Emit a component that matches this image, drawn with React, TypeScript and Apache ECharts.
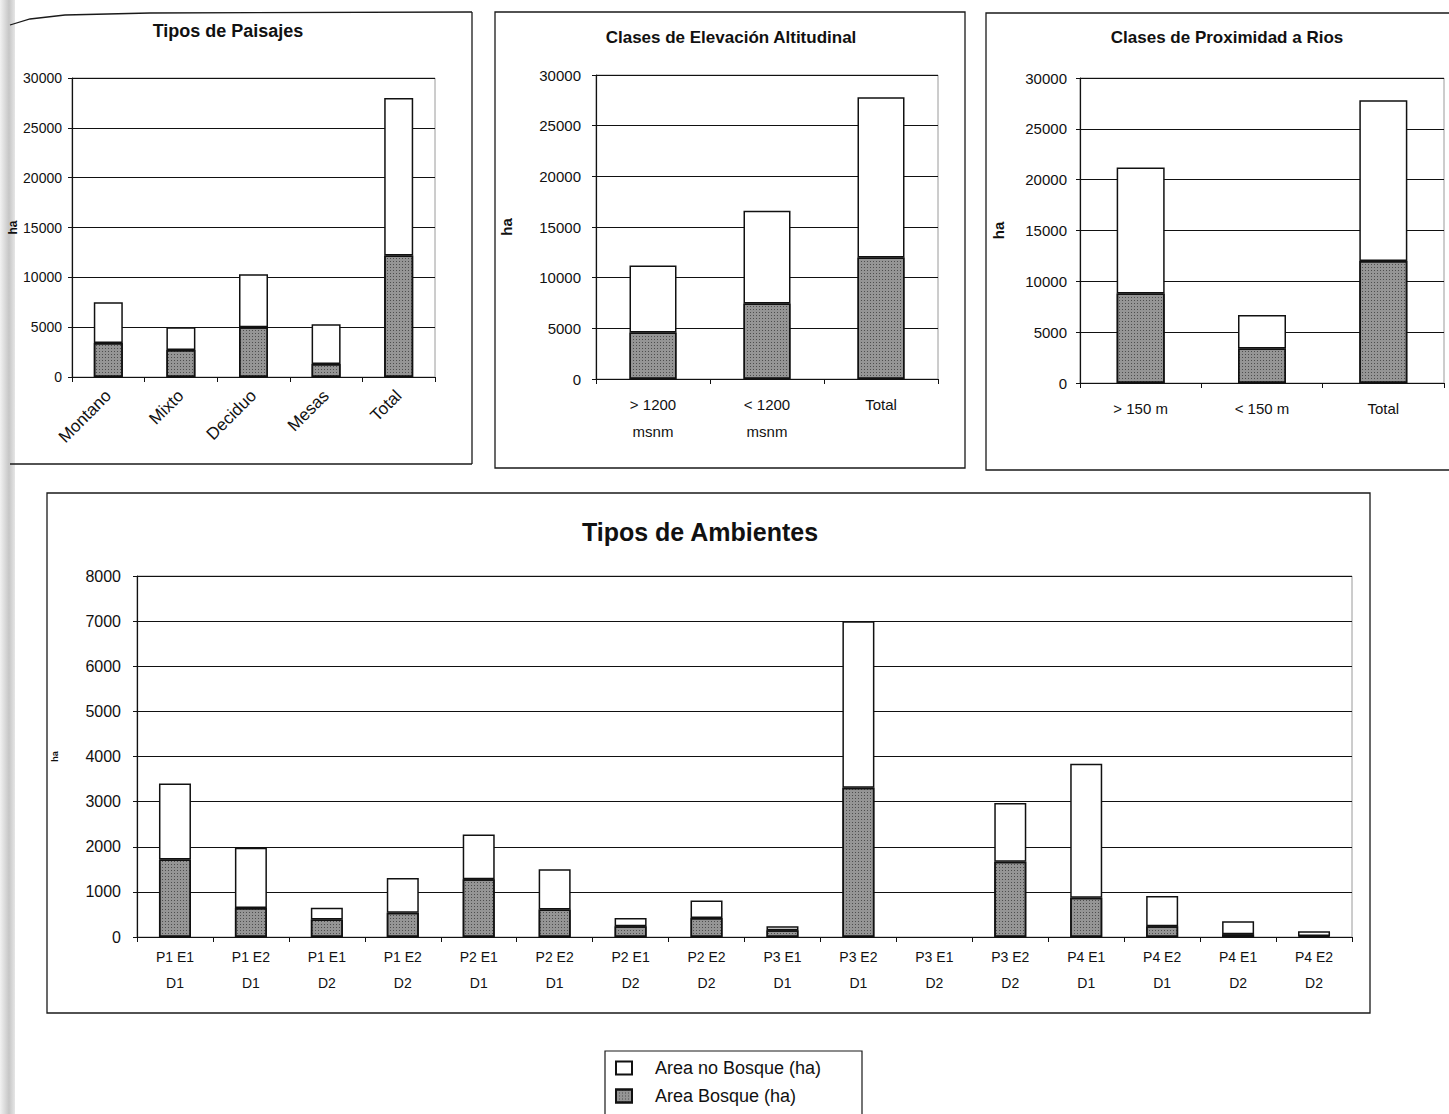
import React, { useEffect, useRef } from 'react';
import * as echarts from 'echarts';

// ---- data ----
const paisajesCats = ['Montano', 'Mixto', 'Deciduo', 'Mesas', 'Total'];
const paisajesBosque = [3400, 2700, 5000, 1300, 12200];
const paisajesNoBosque = [4100, 2300, 5300, 4000, 15800];

const elevCats = ['> 1200\nmsnm', '< 1200\nmsnm', 'Total'];
const elevBosque = [4600, 7450, 12000];
const elevNoBosque = [6600, 9150, 15800];

const riosCats = ['> 150 m', '< 150 m', 'Total'];
const riosBosque = [8800, 3400, 12000];
const riosNoBosque = [12400, 3300, 15800];

const ambCats = [
  'P1 E1\nD1', 'P1 E2\nD1', 'P1 E1\nD2', 'P1 E2\nD2',
  'P2 E1\nD1', 'P2 E2\nD1', 'P2 E1\nD2', 'P2 E2\nD2',
  'P3 E1\nD1', 'P3 E2\nD1', 'P3 E1\nD2', 'P3 E2\nD2',
  'P4 E1\nD1', 'P4 E2\nD1', 'P4 E1\nD2', 'P4 E2\nD2',
];
const ambBosque = [1720, 640, 390, 540, 1280, 610, 240, 420, 150, 3310, 0, 1670, 870, 240, 60, 20];
const ambNoBosque = [1680, 1340, 260, 770, 990, 890, 180, 390, 90, 3690, 0, 1300, 2970, 670, 290, 110];

const topMax = 30000;
const topInterval = 5000;
const ambMax = 8000;
const ambInterval = 1000;

const NAME_NO = 'Area no Bosque (ha)';
const NAME_SI = 'Area Bosque (ha)';

const FONT = '"Liberation Sans", Arial, Helvetica, sans-serif';
const INK = '#111';

const forestStyle = {
  color: '#959595',
  borderColor: INK,
  borderWidth: 1.5,
  decal: {
    symbol: 'rect',
    symbolSize: 1,
    color: 'rgba(30,30,30,0.6)',
    dashArrayX: [1, 2],
    dashArrayY: [1, 2],
    rotation: 0,
  },
};
const openStyle = { color: '#ffffff', borderColor: INK, borderWidth: 1.5 };

// empty cells (value 0) are drawn as missing, so no stray outline appears
const asBars = (vals: number[]) => vals.map((v) => (v === 0 ? '-' : v));

function makeX(idx: number, cats: string[], label: any) {
  return {
    type: 'category',
    gridIndex: idx,
    data: cats,
    axisLine: { lineStyle: { color: INK, width: 1.2 } },
    axisTick: { show: true, length: 5, lineStyle: { color: INK } },
    axisLabel: { color: INK, fontFamily: FONT, interval: 0, ...label },
  };
}

function makeY(idx: number, max: number, interval: number, fontSize: number, margin: number, nameGap: number, nameSize: number) {
  return {
    type: 'value',
    gridIndex: idx,
    min: 0,
    max,
    interval,
    name: 'ha',
    nameLocation: 'middle',
    nameRotate: 90,
    nameGap,
    nameTextStyle: { color: INK, fontFamily: FONT, fontSize: nameSize, fontWeight: 'bold' },
    axisLine: { show: true, lineStyle: { color: INK, width: 1.2 } },
    axisTick: { show: true, length: 4, lineStyle: { color: INK } },
    axisLabel: { color: INK, fontFamily: FONT, fontSize, margin, formatter: (v: number) => String(v) },
    splitLine: { show: true, lineStyle: { color: INK, width: 1 } },
  };
}

function makePair(idx: number, bosque: number[], noBosque: number[], barWidth: number) {
  return [
    {
      name: NAME_SI, type: 'bar', stack: 's' + idx, xAxisIndex: idx, yAxisIndex: idx,
      barWidth, data: asBars(bosque), itemStyle: forestStyle,
    },
    {
      name: NAME_NO, type: 'bar', stack: 's' + idx, xAxisIndex: idx, yAxisIndex: idx,
      barWidth, data: asBars(noBosque), itemStyle: openStyle,
    },
  ];
}

const titleBase = (text: string, left: number, top: number, fontSize: number) => ({
  text,
  left,
  top,
  padding: 0,
  textAlign: 'center',
  textStyle: { color: INK, fontFamily: FONT, fontSize, fontWeight: 'bold' },
});

export default function App() {
  const ref = useRef<HTMLDivElement>(null);

  useEffect(() => {
    document.body.style.margin = '0';
    document.body.style.overflow = 'hidden';
    if (!ref.current) return;
    const chart = echarts.init(ref.current, undefined, { renderer: 'svg' });

    const frame = { stroke: '#1a1a1a', lineWidth: 1.3, fill: 'none' };

    chart.setOption({
      animation: false,
      backgroundColor: '#ffffff',
      title: [
        titleBase('Tipos de Paisajes', 228, 22, 18),
        titleBase('Clases de Elevación Altitudinal', 731, 29, 17),
        titleBase('Clases de Proximidad a Rios', 1227, 29, 17),
        titleBase('Tipos de Ambientes', 700, 519, 25),
      ],
      grid: [
        { left: 72, top: 78, width: 363, height: 299, show: true, borderColor: '#9a9a9a', borderWidth: 1, backgroundColor: 'transparent' },
        { left: 596, top: 75, width: 342, height: 304, show: true, borderColor: '#9a9a9a', borderWidth: 1, backgroundColor: 'transparent' },
        { left: 1080, top: 78, width: 364, height: 305, show: true, borderColor: '#9a9a9a', borderWidth: 1, backgroundColor: 'transparent' },
        { left: 137, top: 576, width: 1215, height: 361, show: true, borderColor: '#9a9a9a', borderWidth: 1, backgroundColor: 'transparent' },
      ],
      xAxis: [
        makeX(0, paisajesCats, { fontSize: 17, rotate: 45, margin: 16 }),
        makeX(1, elevCats, { fontSize: 15, lineHeight: 27, margin: 12 }),
        makeX(2, riosCats, { fontSize: 15, lineHeight: 27, margin: 12 }),
        makeX(3, ambCats, { fontSize: 14, lineHeight: 26, margin: 7 }),
      ],
      yAxis: [
        makeY(0, topMax, topInterval, 14, 10, 52, 12),
        makeY(1, topMax, topInterval, 15, 15, 82, 15),
        makeY(2, topMax, topInterval, 15, 13, 74, 15),
        makeY(3, ambMax, ambInterval, 16, 16, 78, 9),
      ],
      legend: {
        orient: 'vertical',
        left: 615,
        top: 1059,
        padding: 0,
        icon: 'rect',
        itemWidth: 16,
        itemHeight: 13,
        itemGap: 10,
        data: [NAME_NO, NAME_SI],
        textStyle: { color: INK, fontFamily: FONT, fontSize: 18, padding: [0, 0, 0, 18] },
      },
      series: [
        ...makePair(0, paisajesBosque, paisajesNoBosque, 29),
        ...makePair(1, elevBosque, elevNoBosque, 47),
        ...makePair(2, riosBosque, riosNoBosque, 48),
        ...makePair(3, ambBosque, ambNoBosque, 32),
      ],
      graphic: [
        {
          type: 'rect', silent: true, z: -10,
          shape: { x: 0, y: 0, width: 15, height: 1114 },
          style: {
            fill: new echarts.graphic.LinearGradient(0, 0, 1, 0, [
              { offset: 0, color: '#f2f2f2' },
              { offset: 0.6, color: '#c6c6c6' },
              { offset: 1, color: '#e6e6e6' },
            ]),
          },
        },
        { type: 'polyline', silent: true, shape: { points: [[10, 25], [30, 19], [65, 15], [150, 13], [472, 12]] }, style: { ...frame } },
        { type: 'line', silent: true, shape: { x1: 472, y1: 12, x2: 472, y2: 464 }, style: { ...frame } },
        { type: 'line', silent: true, shape: { x1: 10, y1: 464, x2: 472, y2: 464 }, style: { ...frame } },
        { type: 'rect', silent: true, shape: { x: 495, y: 12, width: 470, height: 456 }, style: { ...frame } },
        { type: 'rect', silent: true, shape: { x: 986, y: 13, width: 480, height: 457 }, style: { ...frame } },
        { type: 'rect', silent: true, shape: { x: 47, y: 493, width: 1323, height: 520 }, style: { ...frame } },
        { type: 'rect', silent: true, shape: { x: 605, y: 1051, width: 257, height: 90 }, style: { ...frame, lineWidth: 1.2 } },
      ],
    });

    return () => {
      chart.dispose();
    };
  }, []);

  return <div ref={ref} style={{ width: 1449, height: 1114 }} />;
}
